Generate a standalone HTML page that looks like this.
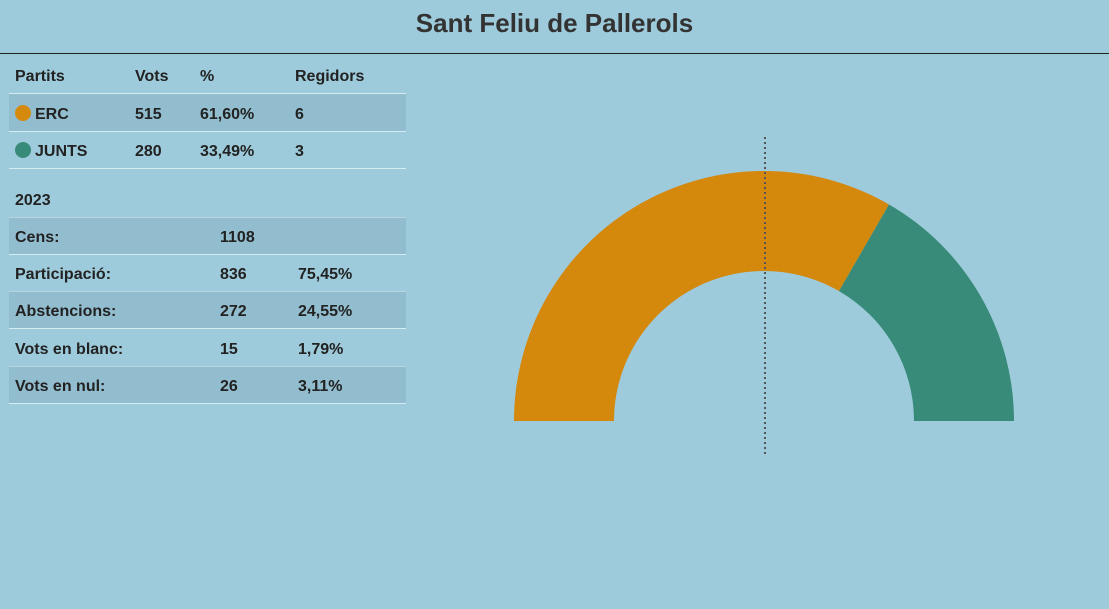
<!DOCTYPE html>
<html><head><meta charset="utf-8"><style>
body{margin:0;width:1109px;height:609px;overflow:hidden;background:#9ecbdb;font-family:"Liberation Sans",Arial,sans-serif;color:#222;position:relative}
.t{position:absolute;left:0;width:1109px;top:8px;text-align:center;font-size:26px;font-weight:bold;color:#333}
.hr{position:absolute;left:0;width:1109px;top:53px;height:1px;background:#222}
.r{position:absolute;left:9px;width:397px;height:37px;border-bottom:1px solid #d6ecf3;font-size:16px;font-weight:bold}
.r span{position:absolute;top:12px}
.s{background:rgba(120,160,175,0.3)}
.d{display:inline-block;width:16px;height:16px;border-radius:50%;position:absolute;left:6px;top:11px}
</style></head><body>
<div class="t">Sant Feliu de Pallerols</div>
<div class="hr"></div>
<div class="r" style="top:56px"><span style="left:6px">Partits</span><span style="left:126px">Vots</span><span style="left:191px">%</span><span style="left:286px">Regidors</span></div>
<div class="r s" style="top:94px"><i class="d" style="background:#d58a0c"></i><span style="left:26px">ERC</span><span style="left:126px">515</span><span style="left:191px">61,60%</span><span style="left:286px">6</span></div>
<div class="r" style="top:131px"><i class="d" style="background:#388b79"></i><span style="left:26px">JUNTS</span><span style="left:126px">280</span><span style="left:191px">33,49%</span><span style="left:286px">3</span></div>
<div class="r" style="top:180px"><span style="left:6px">2023</span></div>
<div class="r s" style="top:217px"><span style="left:6px">Cens:</span><span style="left:211px">1108</span></div>
<div class="r" style="top:254px"><span style="left:6px">Participació:</span><span style="left:211px">836</span><span style="left:289px">75,45%</span></div>
<div class="r s" style="top:291px"><span style="left:6px">Abstencions:</span><span style="left:211px">272</span><span style="left:289px">24,55%</span></div>
<div class="r" style="top:329px"><span style="left:6px">Vots en blanc:</span><span style="left:211px">15</span><span style="left:289px">1,79%</span></div>
<div class="r s" style="top:366px"><span style="left:6px">Vots en nul:</span><span style="left:211px">26</span><span style="left:289px">3,11%</span></div>
<svg style="position:absolute;left:0;top:0" width="1109" height="609">
<path d="M514 421 A250 250 0 0 1 889 204.5 L839 291.1 A150 150 0 0 0 614 421 Z" fill="#d4880c"/>
<path d="M889 204.5 A250 250 0 0 1 1014 421 L914 421 A150 150 0 0 0 839 291.1 Z" fill="#388b79"/>
<line x1="765" y1="137" x2="765" y2="457" stroke="#555" stroke-width="2" stroke-dasharray="2,3"/>
</svg>
</body></html>
